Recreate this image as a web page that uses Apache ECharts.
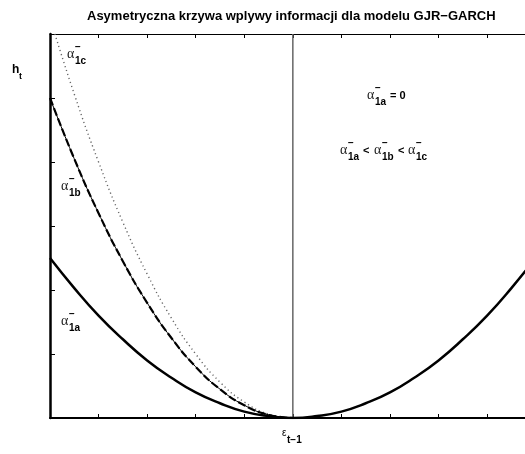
<!DOCTYPE html>
<html>
<head>
<meta charset="utf-8">
<script src="https://cdn.jsdelivr.net/npm/echarts@6/dist/echarts.min.js"></script>
<style>html,body{margin:0;padding:0;background:#fff}#c{width:525px;height:454px}</style>
</head>
<body>
<div id="c"></div>
<script>
// Data
var epsAll = [-5,-4.5,-4,-3.5,-3,-2.5,-2,-1.5,-1,-0.5,0,0.5,1,1.5,2,2.5,3,3.5,4,4.5,5];
var hA = [2.5,2.03,1.6,1.23,0.9,0.63,0.4,0.23,0.1,0.03,0,0.03,0.1,0.23,0.4,0.63,0.9,1.23,1.6,2.03,2.5];
var epsLeft = [-5,-4.5,-4,-3.5,-3,-2.5,-2,-1.5,-1,-0.5,0];
var hB = [5,4.05,3.2,2.45,1.8,1.25,0.8,0.45,0.2,0.05,0];
var hC = [6.25,5.06,4,3.06,2.25,1.56,1,0.56,0.25,0.06,0];
var vLineX = [0,0];
var vLineY = [0,6];
var titleText = 'Asymetryczna krzywa wplywy informacji dla modelu GJR\u2212GARCH';

function pairs(xs, ys){ return xs.map(function(x,i){return [x, ys[i]];}); }

var SANS = 'Liberation Sans, Arial, sans-serif';
var SERIF = 'Liberation Serif, Times New Roman, serif';

function alpha(x, y, sub){
  return [
    {type:'text', left:x, top:y-8, style:{text:'\u03b1', font:'14px '+SERIF, fill:'#222'}},
    {type:'text', left:x+8, top:y-13, style:{text:'\u2212', font:'bold 10px '+SANS, fill:'#000'}},
    {type:'text', left:x+8, top:y+1, style:{text:sub, font:'bold 10px '+SANS, fill:'#000'}}
  ];
}
function txt(x, y, s, font){
  return {type:'text', left:x, top:y, style:{text:s, font:font, fill:'#000'}};
}

var graphics = [];
graphics = graphics.concat(alpha(67, 55, '1c'));
graphics = graphics.concat(alpha(61, 187, '1b'));
graphics = graphics.concat(alpha(61, 322, '1a'));
graphics = graphics.concat(alpha(367, 96, '1a'));
graphics.push(txt(390, 90, '= 0', 'bold 11px '+SANS));
graphics = graphics.concat(alpha(340, 151, '1a'));
graphics.push(txt(363, 145, '<', 'bold 11px '+SANS));
graphics = graphics.concat(alpha(374, 151, '1b'));
graphics.push(txt(398, 145, '<', 'bold 11px '+SANS));
graphics = graphics.concat(alpha(408, 151, '1c'));
graphics.push(txt(12, 64, 'h', 'bold 12px '+SANS));
graphics.push(txt(19, 72, 't', 'bold 9px '+SANS));
graphics.push(txt(282, 428, '\u03b5', '10px '+SANS));
graphics.push(txt(287, 435, 't\u22121', 'bold 10px '+SANS));

var chart = echarts.init(document.getElementById('c'));
chart.setOption({
  animation:false,
  backgroundColor:'#fff',
  title:{text:titleText, left:82, top:5, textStyle:{fontFamily:SANS, fontWeight:'bold', fontSize:13, color:'#000'}},
  grid:{left:50, top:34, right:0, bottom:36, show:false},
  xAxis:[
    {type:'value', min:-5, max:4.78, interval:1, position:'bottom',
     axisLine:{onZero:false, lineStyle:{color:'#000', width:2}}, axisTick:{inside:true, length:4, lineStyle:{color:'#000'}},
     axisLabel:{show:false}, splitLine:{show:false}},
    {type:'value', min:-5, max:4.78, interval:1, position:'top',
     axisLine:{onZero:false, lineStyle:{color:'#000', width:1}}, axisTick:{inside:true, length:4, lineStyle:{color:'#000'}},
     axisLabel:{show:false}, splitLine:{show:false}}
  ],
  yAxis:[
    {type:'value', min:0, max:6, interval:1, position:'left',
     axisLine:{show:true, onZero:false, lineStyle:{color:'#000', width:2.5}}, axisTick:{show:true, inside:true, length:5, lineStyle:{color:'#000'}},
     axisLabel:{show:false}, splitLine:{show:false}}
  ],
  series:[
    {type:'line', data:pairs(vLineX, vLineY), showSymbol:false, lineStyle:{color:'#666', width:1.5}, z:1},
    {type:'line', data:pairs(epsLeft, hC), smooth:0.5, showSymbol:false, lineStyle:{color:'#666', width:1.4, type:[1.2,3]}},
    {type:'line', data:pairs(epsLeft, hB), smooth:0.5, showSymbol:false, lineStyle:{color:'#000', width:1}},
    {type:'line', data:pairs(epsLeft, hB), smooth:0.5, showSymbol:false, lineStyle:{color:'#000', width:2.2, type:[8,3]}},
    {type:'line', data:pairs(epsAll, hA), smooth:0.5, showSymbol:false, lineStyle:{color:'#000', width:2.5}}
  ],
  graphic:graphics
});
</script>
</body>
</html>
